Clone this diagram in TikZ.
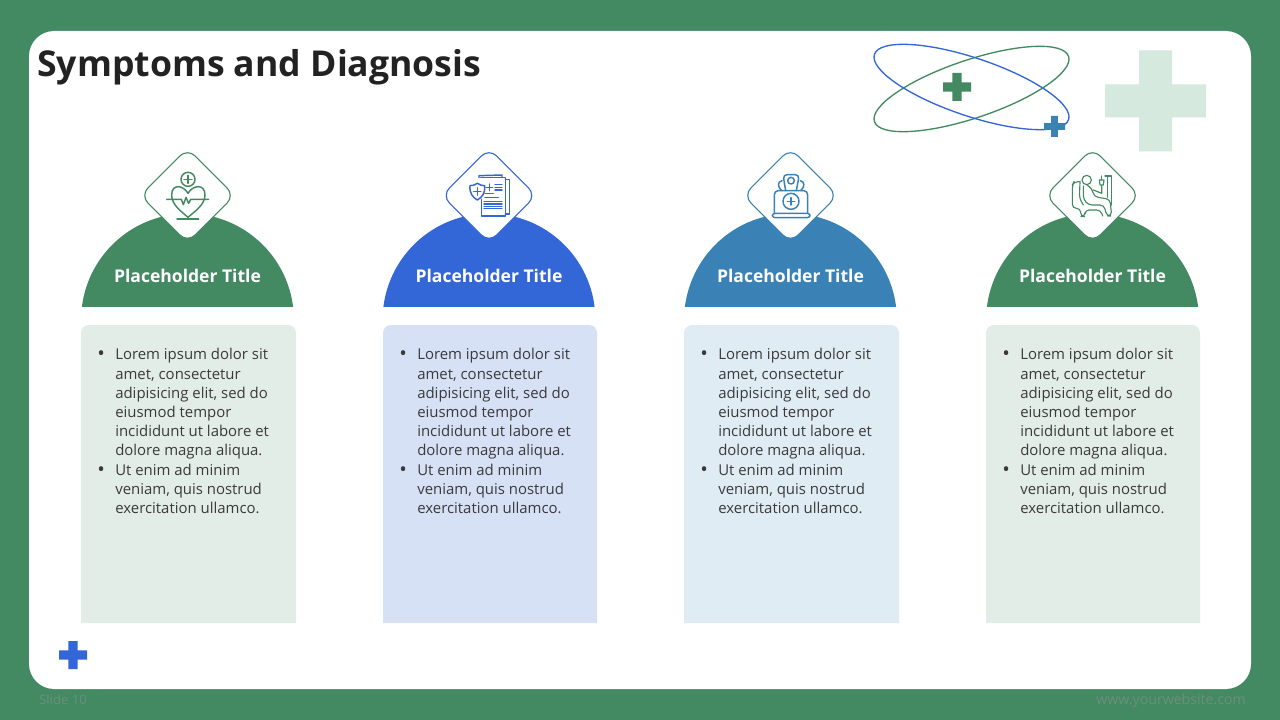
\documentclass[tikz,border=0pt]{standalone}
\usepackage{fontspec}
\setmainfont{Open Sans}
\usetikzlibrary{calc}
\definecolor{bgreen}{HTML}{438A63}
\definecolor{bblue}{HTML}{3366D6}
\definecolor{bsteel}{HTML}{3A82B5}
\definecolor{tgreen}{HTML}{E3EDE7}
\definecolor{tblue}{HTML}{D6E1F5}
\definecolor{tsteel}{HTML}{E0ECF4}
\definecolor{lcross}{HTML}{D5E9DF}
\definecolor{ink}{HTML}{222222}
\definecolor{body}{HTML}{3A3A3A}
\definecolor{foot}{HTML}{6A9079}
\tikzset{
  gemstyle/.style={draw=#1,line width=0.85pt,fill=white,rectangle,rotate=45,minimum size=50pt,rounded corners=8pt,inner sep=0pt},
  headstyle/.style={text=white,font=\bfseries\fontsize{13.15pt}{16pt}\selectfont,anchor=base,inner sep=0pt},
  bodystyle/.style={text=body,font=\fontsize{11.2pt}{14.4pt}\selectfont,align=left,anchor=north west,inner sep=0pt},
  ico/.style={draw=#1,line width=1.1pt,line cap=round,line join=round},
}
\newcommand{\plusmark}[6]{% cx cy half arm color
  \fill[#5] ({#1-#3},{#2-#4}) -- ({#1-#4},{#2-#4}) -- ({#1-#4},{#2-#3}) -- ({#1+#4},{#2-#3}) -- ({#1+#4},{#2-#4}) -- ({#1+#3},{#2-#4}) -- ({#1+#3},{#2+#4}) -- ({#1+#4},{#2+#4}) -- ({#1+#4},{#2+#3}) -- ({#1-#4},{#2+#3}) -- ({#1-#4},{#2+#4}) -- ({#1-#3},{#2+#4}) -- cycle;}
\newcommand{\blt}{\makebox[13.5pt][l]{\raisebox{-0.8pt}{\scalebox{1.35}{\textbullet}}}}
\newcommand{\hng}{\hspace*{13.5pt}}
\newcommand{\loremtext}{\blt Lorem ipsum dolor sit\\\hng amet, consectetur\\\hng adipisicing elit, sed do\\\hng eiusmod tempor\\\hng incididunt ut labore et\\\hng dolore magna aliqua.\\\blt Ut enim ad minim\\\hng veniam, quis nostrud\\\hng exercitation ullamco.}
\newcommand{\cardcol}[6]{% id cx left right color tint
  \fill[#6] (#3,623) {[rounded corners=6pt] -- (#3,325) -- (#4,325)} -- (#4,623) -- cycle;
  \begin{scope}
    \clip ({#2-110},200) rectangle ({#2+110},306);
    \fill[#5] (#2,320) circle[radius=106.4];
  \end{scope}
  \node[gemstyle=#5] (gem#1) at (#2,195.5) {};
  \node[headstyle] (head#1) at (#2,282.3) {Placeholder Title};
  \node[bodystyle] (text#1) at ({#3+16},348.3) {\loremtext};
}
\begin{document}
\begin{tikzpicture}[x=0.75pt,y=-0.75pt]
\useasboundingbox (0,0) rectangle (1280,720);
\fill[bgreen] (0,0) rectangle (1280,720);
\fill[white,rounded corners=19pt] (29,31) rectangle (1251,689);
\node[text=ink,font=\bfseries\fontsize{26.7pt}{30pt}\selectfont,anchor=base west,inner sep=0pt] (title) at (37,77) {Symptoms and Diagnosis};
% atom
\draw[bgreen,line width=1pt,rotate around={18.6:(971.5,89)}] (971.5,89) ellipse [x radius=102.4,y radius=29];
\draw[bblue,line width=1pt,rotate around={-18.6:(971.5,87)}] (971.5,87) ellipse [x radius=102.4,y radius=29];
\plusmark{957}{87}{14}{4.7}{bgreen}{}
\plusmark{1054.5}{126.5}{10.5}{3.4}{bsteel}{}
\plusmark{1155.5}{101}{50.5}{16.5}{lcross}{}
\plusmark{73}{655}{14}{4.7}{bblue}{}
% columns
\cardcol{a}{187.5}{81}{296}{bgreen}{tgreen}
\cardcol{b}{489}{383}{597}{bblue}{tblue}
\cardcol{c}{790.5}{684}{899}{bsteel}{tsteel}
\cardcol{d}{1092.5}{986}{1200}{bgreen}{tgreen}
% heart icon
\begin{scope}[shift={(120,140)},x=0.25pt,y=-0.25pt,ico=bgreen]
  \draw (204,118) circle[radius=21];
  \draw (204,106) -- (204,130) (192,118) -- (216,118);
  \draw (204,160) .. controls (190,135) and (155,130) .. (155,165) .. controls (155,195) and (185,215) .. (204,232) .. controls (223,215) and (255,195) .. (255,165) .. controls (255,130) and (218,135) .. (204,160);
  \draw (140,178) -- (184,178) -- (190,194) -- (198,172) -- (206,190) -- (212,178) -- (222,178) -- (266,178);
  \draw (171,237) -- (236,237);
\end{scope}
% documents icon
\begin{scope}[shift={(430,140)},x=0.25pt,y=-0.25pt,ico=bblue]
  \draw (152,113) -- (226,113) -- (226,228) -- (155,228) -- (155,178);
  \draw (147,113) -- (147,107) -- (216,105) -- (216,113);
  \draw (226,118) -- (238,118) -- (238,222) -- (226,222);
  \draw[fill=white] (142,130) .. controls (132,136) and (126,137) .. (120,137) .. controls (118,160) and (128,172) .. (142,180) .. controls (156,172) and (166,160) .. (164,137) .. controls (158,137) and (150,136) .. (142,130) -- cycle;
  \draw (142,143) -- (142,166) (131,155) -- (153,155);
  \draw (178,132) -- (178,152) (168,142) -- (188,142);
  \draw (195,133) -- (216,133) (195,142) -- (216,142) (195,150) -- (216,150);
  \draw (165,160) -- (190,160) (165,172) -- (205,172);
  \foreach \yy in {185,192,199,206} {\draw (162,\yy) -- (216,\yy);}
\end{scope}
% laptop icon
\begin{scope}[shift={(730,140)},x=0.25pt,y=-0.25pt,ico=bsteel]
  \draw[rounded corners=2pt] (127,220) rectangle (240,233);
  \draw[rounded corners=3pt] (133,220) -- (133,152) -- (233,152) -- (233,220);
  \draw (183,184) circle[radius=24];
  \draw (183,173) -- (183,195) (172,184) -- (194,184);
  \draw[rounded corners=3pt] (167,152) -- (159,104) -- (208,104) -- (199,152);
  \draw (183,122) circle[radius=10];
  \draw (155,152) .. controls (142,140) and (142,125) .. (156,122);
  \draw (212,152) .. controls (225,140) and (225,125) .. (211,122);
\end{scope}
% patient icon
\begin{scope}[shift={(1030,140)},x=0.25pt,y=-0.25pt,ico=bgreen,line width=0.85pt]
  \draw (170,120) circle[radius=14];
  \draw[rounded corners=3pt] (160,138) -- (160,178) -- (175,195) -- (222,195) -- (230,228) -- (245,228) -- (240,178) -- (192,170) -- (186,145) -- (172,136);
  \draw[rounded corners=3pt] (150,125) -- (132,125) -- (127,135) -- (127,205) -- (152,205) -- (152,230) -- (165,230) -- (165,210) -- (212,210) -- (218,228);
  \draw[rounded corners=3pt] (150,125) -- (148,175) -- (160,195);
  \draw (190,150) -- (215,160) -- (215,137);
  \draw (208,120) -- (222,120) -- (220,135) -- (210,135) -- cycle;
  \draw (215,108) -- (215,120);
  \draw (225,108) -- (245,108) -- (245,195);
  \draw (233,108) -- (233,172);
\end{scope}
\node[text=foot,font=\fontsize{9.8pt}{11pt}\selectfont,anchor=base west,inner sep=0pt] (slideno) at (39,704) {Slide 10};
\node[text=foot,font=\fontsize{10.6pt}{11pt}\selectfont,anchor=base east,inner sep=0pt] (site) at (1246,704) {www.yourwebsite.com};
\end{tikzpicture}
\end{document}
